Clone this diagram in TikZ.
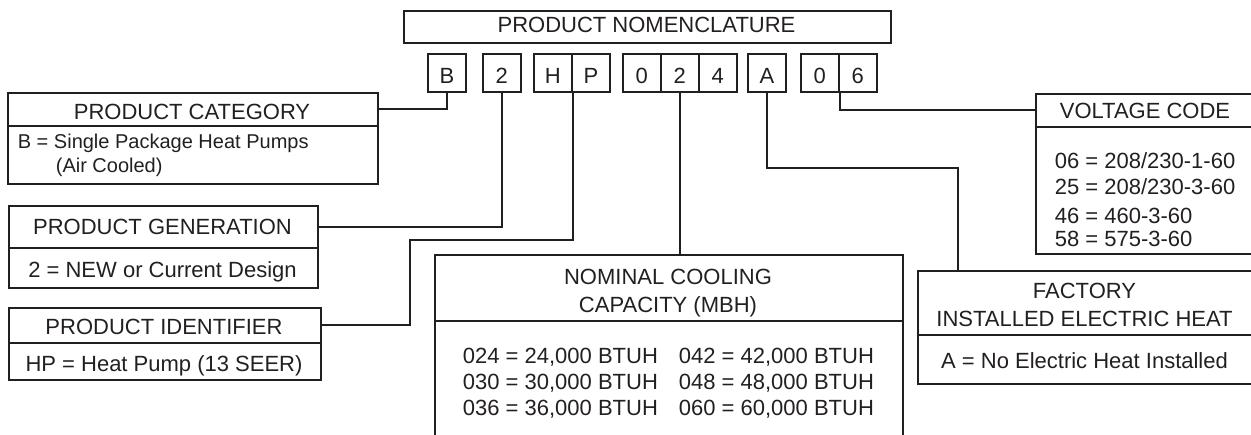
\documentclass[tikz,border=0pt]{standalone}
\usepackage{fontspec}
\setmainfont{Liberation Sans}
\definecolor{ink}{HTML}{231F20}
\begin{document}
\begin{tikzpicture}[x=1pt,y=-1pt,line width=1.7pt,draw=ink,
  box/.style={draw=ink,line width=1.7pt,inner sep=0pt,anchor=north west},
  letterbox/.style={draw=ink,line width=1.7pt,inner sep=0pt,anchor=north west,
    minimum width=38pt,minimum height=38pt,text height=21.4pt,text depth=0pt,
    text=ink,font=\fontsize{22}{26}\selectfont},
  txt/.style={inner sep=0pt,text=ink,font=\fontsize{22}{26}\selectfont},
  smalltxt/.style={inner sep=0pt,text=ink,font=\fontsize{20}{24}\selectfont},
  wire/.style={draw=ink,line width=1.7pt}]
\useasboundingbox (0,0) rectangle (1251,435);
\clip (0,0) rectangle (1251,435);

% title
\node[box,minimum width=487pt,minimum height=32pt] (title) at (403,10) {};
\node[txt,anchor=base] (titlet) at (646.5,32.3) {PRODUCT NOMENCLATURE};

% letter boxes
\node[letterbox] (B) at (427,53) {B};
\node[letterbox] (g2) at (482,53) {2};
\node[letterbox] (H) at (533,53) {H};
\node[letterbox] (P) at (571,53) {P};
\node[letterbox] (c0) at (622,53) {0};
\node[letterbox] (c2) at (660,53) {2};
\node[letterbox] (c4) at (698,53) {4};
\node[letterbox] (A) at (747,53) {A};
\node[letterbox] (v0) at (800,53) {0};
\node[letterbox] (v6) at (838,53) {6};

% product category
\node[box,minimum width=370pt,minimum height=33pt] (cath) at (7,92) {};
\node[box,minimum width=370pt,minimum height=58pt] (catb) at (7,125) {};
\node[txt,anchor=base] (catht) at (192,120) {PRODUCT CATEGORY};
\node[smalltxt,anchor=base west] (catb1) at (17,148.3) {B = Single Package Heat Pumps};
\node[smalltxt,anchor=base west] (catb2) at (55,172.7) {(Air Cooled)};

% product generation
\node[box,minimum width=309pt,minimum height=42pt] (genh) at (8,205) {};
\node[box,minimum width=309pt,minimum height=40pt] (genb) at (8,247) {};
\node[txt,anchor=base] (genht) at (162.5,235) {PRODUCT GENERATION};
\node[txt,anchor=base] (genbt) at (162.5,277.3) {2 = NEW or Current Design};

% product identifier
\node[box,minimum width=312pt,minimum height=35pt] (idh) at (8,307) {};
\node[box,minimum width=312pt,minimum height=37pt] (idb) at (8,342) {};
\node[txt,anchor=base] (idht) at (164,335) {PRODUCT IDENTIFIER};
\node[txt,anchor=base] (idbt) at (164,371.7) {HP = Heat Pump (13 SEER)};

% nominal cooling capacity
\node[box,minimum width=468pt,minimum height=66pt] (nomh) at (434,254) {};
\node[box,minimum width=468pt,minimum height=140pt] (nomb) at (434,320) {};
\node[txt,anchor=base] (nomh1) at (668,285) {NOMINAL COOLING};
\node[txt,anchor=base] (nomh2) at (668,312.7) {CAPACITY (MBH)};
\node[txt,anchor=base west] (n1) at (462,363.3) {024 = 24,000 BTUH};
\node[txt,anchor=base west] (n2) at (462,390) {030 = 30,000 BTUH};
\node[txt,anchor=base west] (n3) at (462,416) {036 = 36,000 BTUH};
\node[txt,anchor=base west] (n4) at (678,363.3) {042 = 42,000 BTUH};
\node[txt,anchor=base west] (n5) at (678,390) {048 = 48,000 BTUH};
\node[txt,anchor=base west] (n6) at (678,416) {060 = 60,000 BTUH};

% voltage code
\node[box,minimum width=218pt,minimum height=33pt] (volth) at (1035,93) {};
\node[box,minimum width=218pt,minimum height=127pt] (voltb) at (1035,126) {};
\node[txt,anchor=base] (voltht) at (1145,118.3) {VOLTAGE CODE};
\node[txt,anchor=base west] (v1) at (1054,168.3) {06 = 208/230-1-60};
\node[txt,anchor=base west] (v2) at (1054,195) {25 = 208/230-3-60};
\node[txt,anchor=base west] (v3) at (1054,223.3) {46 = 460-3-60};
\node[txt,anchor=base west] (v4) at (1054,246.7) {58 = 575-3-60};

% factory installed electric heat
\node[box,minimum width=336pt,minimum height=64pt] (facth) at (917,270) {};
\node[box,minimum width=336pt,minimum height=49pt] (factb) at (917,334) {};
\node[txt,anchor=base] (facth1) at (1084.5,298.3) {FACTORY};
\node[txt,anchor=base] (facth2) at (1084.5,326.7) {INSTALLED ELECTRIC HEAT};
\node[txt,anchor=base] (factbt) at (1084.5,368.3) {A = No Electric Heat Installed};

% connectors
\coordinate (idbend) at (410,240);
\coordinate (abend) at (958,168);
\draw[wire] (B.south) |- (cath.east);
\draw[wire] (genh.east) -| (g2.south);
\draw[wire] (idh.east) -| (idbend) -| (H.south east);
\draw[wire] (c2.south) -- (c2.south |- nomh.north);
\draw[wire] (A.south) |- (abend) -- (abend |- facth.north);
\draw[wire] (v0.south east) |- (volth.west);
\end{tikzpicture}
\end{document}
